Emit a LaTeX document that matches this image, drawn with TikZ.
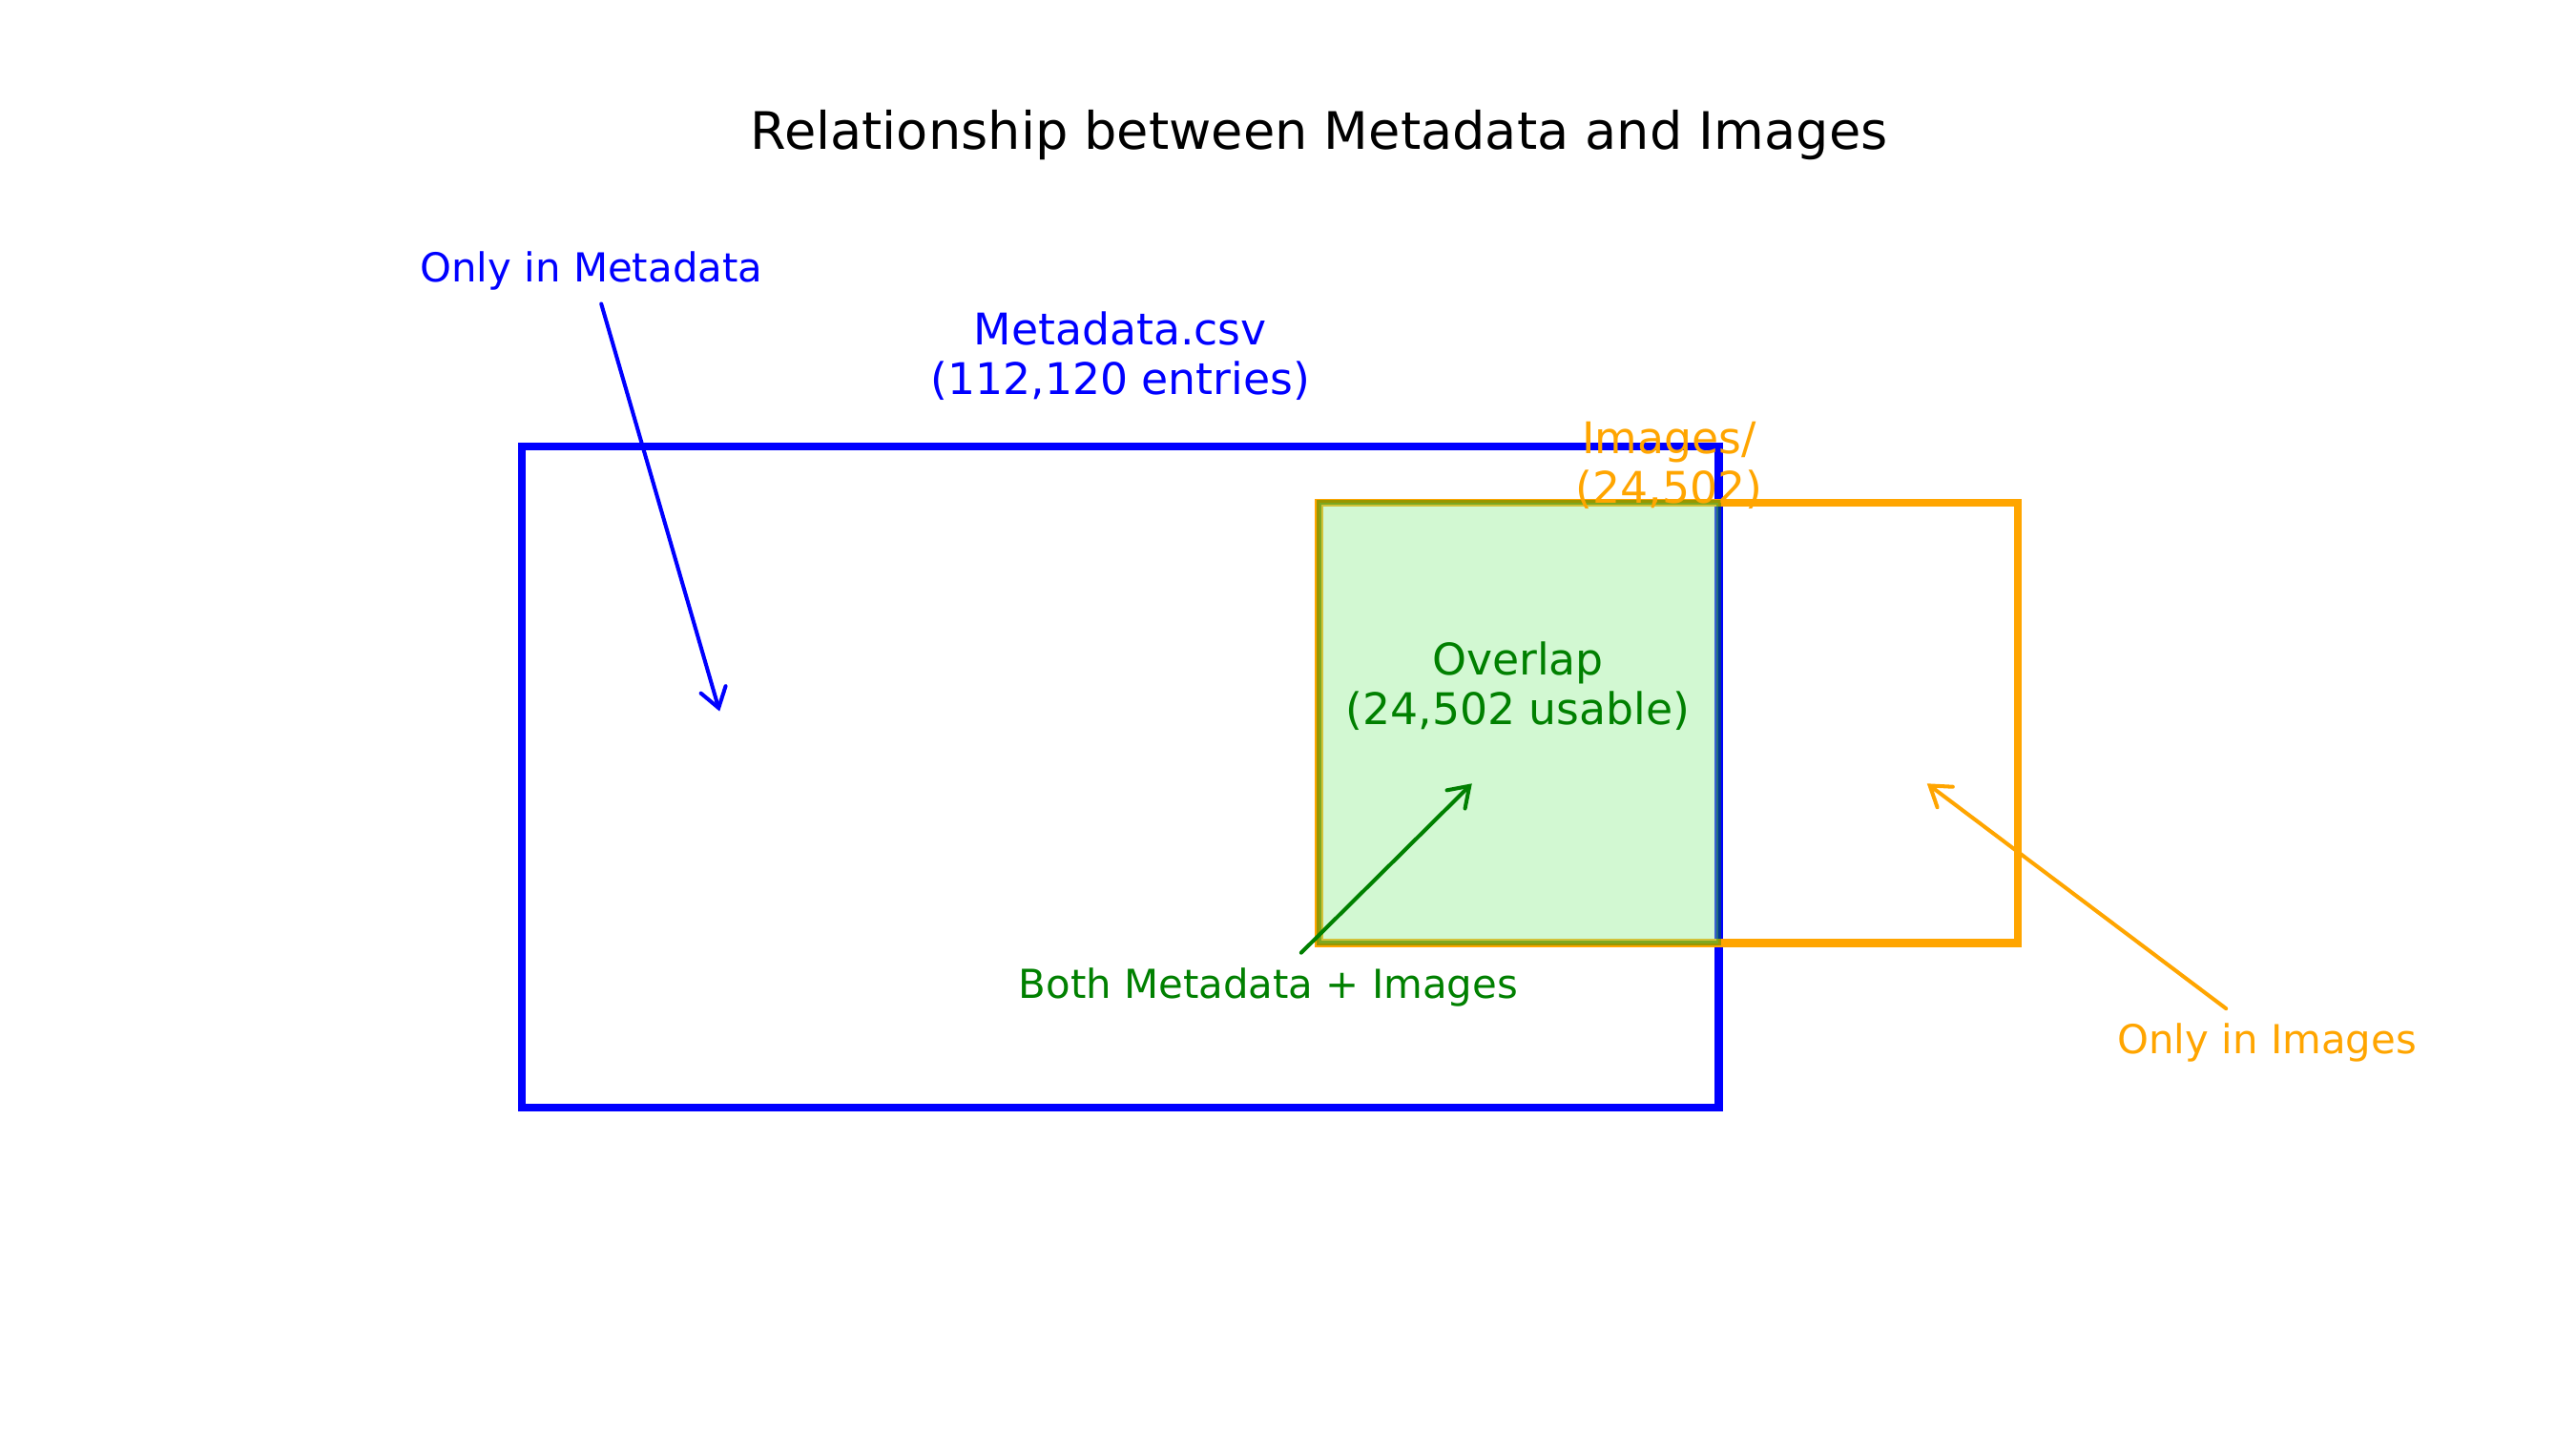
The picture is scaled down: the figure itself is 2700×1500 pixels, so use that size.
\documentclass[tikz,border=0pt]{standalone}
\usepackage{fontspec}
\setmainfont{DejaVu Sans}
\usetikzlibrary{arrows.meta}
\definecolor{mblue}{RGB}{0,0,255}
\definecolor{morange}{RGB}{255,165,0}
\definecolor{mgreen}{RGB}{0,128,0}
\definecolor{mlightgreen}{RGB}{144,238,144}
\begin{document}
\begin{tikzpicture}[x=0.01cm,y=-0.01cm,
  boxline/.style={line width=2.4pt, inner sep=0pt, outer sep=0pt},
  annot/.style={font=\fontsize{11.9}{14}\selectfont, inner sep=0pt},
  boxlabel/.style={font=\fontsize{13}{14.8}\selectfont, align=center, inner sep=0pt},
  titlestyle/.style={font=\fontsize{15.4}{18}\selectfont, inner sep=0pt},
  pointer/.style={line width=1.15pt, line cap=round, -{Straight Barb[length=2mm,width=2.7mm,line cap=round]}}]
\useasboundingbox (0,0) rectangle (2700,1500);
\fill[white] (0,0) rectangle (2700,1500);

% boxes
\node (metabox) [boxline, draw=mblue, minimum width=12.535cm, minimum height=6.922cm] at (1174.35,814.5) {};
\node (imgbox) [boxline, draw=morange, minimum width=7.318cm, minimum height=4.615cm] at (1748.6,757.65) {};
\node (overlapbox) [inner sep=0pt, outer sep=0pt, fill=mlightgreen, draw=mgreen, fill opacity=0.4, draw opacity=0.4, line width=1.3pt, minimum width=4.184cm, minimum height=4.615cm] at (1591.9,757.65) {};

% labels
\node (title) [titlestyle] at (1382.7,141.5) {Relationship between Metadata and Images};
\node (metalabel) [boxlabel, text=mblue] at (1174.3,373) {Metadata.csv\\(112,120 entries)};
\node (imglabel) [boxlabel, text=morange] at (1749.4,487.5) {Images/\\(24,502)};
\node (overlaplabel) [boxlabel, text=mgreen] at (1591,719.5) {Overlap\\(24,502 usable)};

\node (onlymeta) [annot, text=mblue] at (619.9,284) {Only in Metadata};
\node (both) [annot, text=mgreen] at (1329.3,1034.5) {Both Metadata + Images};
\node (onlyimg) [annot, text=morange] at (2376.2,1093) {Only in Images};

% arrow ends
\coordinate (pm1) at (630.2,318.5);
\coordinate (pm2) at (754.2,745.6);
\coordinate (pb1) at (1363.8,998.7);
\coordinate (pb2) at (1542.8,821.3);
\coordinate (pi1) at (2333.2,1057.2);
\coordinate (pi2) at (2019.8,821.3);

\draw[pointer, mblue] (pm1) -- (pm2);
\draw[pointer, mgreen] (pb1) -- (pb2);
\draw[pointer, morange] (pi1) -- (pi2);
\end{tikzpicture}
\end{document}
